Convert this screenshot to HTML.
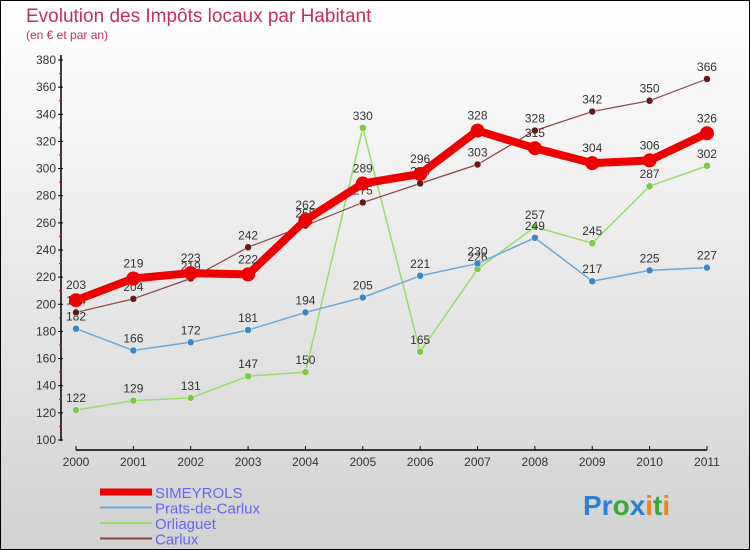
<!DOCTYPE html>
<html><head><meta charset="utf-8"><style>
body{margin:0}
#c{width:750px;height:550px;position:relative;box-sizing:border-box;border:1px solid #000;background:linear-gradient(#fff,#d2d2d2);font-family:"Liberation Sans","DejaVu Sans",sans-serif;overflow:hidden}
</style></head><body>
<div id="c">
<svg width="750" height="550" style="position:absolute;left:-1px;top:-1px" id="svg">
<text x="26" y="22" font-size="19" fill="#c0305a">Evolution des Impôts locaux par Habitant</text>
<text x="26" y="39" font-size="12" fill="#c0305a">(en € et par an)</text>
<g id="axes"></g><g id="series"></g><g id="legend"></g>
<text x="583" y="515" font-size="28" font-weight="bold"><tspan fill="#2a7fd4">Pr</tspan><tspan fill="#3aa83a">o</tspan><tspan fill="#2a7fd4">x</tspan><tspan fill="#f08020">i</tspan><tspan fill="#3aa83a">t</tspan><tspan fill="#f08020">i</tspan></text>
</svg>
</div>
<script>
const years=["2000","2001","2002","2003","2004","2005","2006","2007","2008","2009","2010","2011"];
const yTicks=[100,120,140,160,180,200,220,240,260,280,300,320,340,360,380];
const simeyrols=[203,219,223,222,262,289,296,328,315,304,306,326];
const prats=[182,166,172,181,194,205,221,230,249,217,225,227];
const orliaguet=[122,129,131,147,150,330,165,226,257,245,287,302];
const carlux=[194,204,219,242,258,275,289,303,328,342,350,366];
const NS="http://www.w3.org/2000/svg";
function X(i){return 76+i*57.36;}
function Y(v){return 440-(v-100)*380/280;}
function mk(t,a,p){const e=document.createElementNS(NS,t);for(const k in a)e.setAttribute(k,a[k]);p.appendChild(e);return e;}
const ax=document.getElementById('axes');
let yl=mk('line',{x1:61,y1:55,x2:61,y2:441,stroke:'#000','stroke-width':1.5},ax);


yTicks.forEach(v=>{const y=Y(v);
mk('line',{x1:58,y1:y,x2:63,y2:y,stroke:'#000'},ax);
if(v<380)mk('line',{x1:59,y1:y-13.57,x2:62,y2:y-13.57,stroke:'#e00'},ax);
const t=mk('text',{x:56,y:y+4,'font-size':12,fill:'#333','text-anchor':'end'},ax);t.textContent=v;

});
let xl=mk('line',{x1:76,y1:450,x2:707,y2:450,stroke:'#000','stroke-width':1.5},ax);


years.forEach((yr,i)=>{mk('line',{x1:X(i),y1:446,x2:X(i),y2:450,stroke:'#000'},ax);
const t=mk('text',{x:X(i),y:466,'font-size':12,fill:'#333','text-anchor':'middle'},ax);t.textContent=yr;

});
const S=document.getElementById('series');
const defs=[
 {d:orliaguet,c:'#99dd66',f:'#77cc44',w:1.5,r:3.5,n:'orliaguet'},
 {d:prats,c:'#6aa8d8',f:'#3a88cc',w:1.5,r:3.5,n:'prats-de-carlux'},
 {d:carlux,c:'#8a4444',f:'#661818',w:1.2,r:3.5,n:'carlux'},
 {d:simeyrols,c:'#ee0000',f:'#ee0000',w:8,r:7,n:'simeyrols'}];
defs.forEach(s=>{const g=mk('g',{},S);


mk('polyline',{points:s.d.map((v,i)=>X(i)+','+Y(v)).join(' '),fill:'none',stroke:s.c,'stroke-width':s.w,'stroke-linejoin':'round'},g);
s.d.forEach((v,i)=>{const c=mk('circle',{cx:X(i),cy:Y(v),r:s.r,fill:s.f,stroke:s.n=='simeyrols'?'none':'#fff','stroke-width':0.5},g);


const t=mk('text',{x:X(i),y:Y(v)-(s.n=='simeyrols'?11:8),'font-size':12,fill:'#333','text-anchor':'middle'},g);t.textContent=v;

});});
const L=document.getElementById('legend');
[['SIMEYROLS','#ee0000',7],['Prats-de-Carlux','#6aa8d8',2],['Orliaguet','#99dd66',2],['Carlux','#8a4444',2]].forEach((e,i)=>{
const y=492+i*15.5;const g=mk('g',{},L);


mk('line',{x1:100,y1:y,x2:152,y2:y,stroke:e[1],'stroke-width':e[2]},g);
const t=mk('text',{x:155,y:y+6,'font-size':15,fill:'#6666ee'},g);t.textContent=e[0];});
</script>
</body></html>
